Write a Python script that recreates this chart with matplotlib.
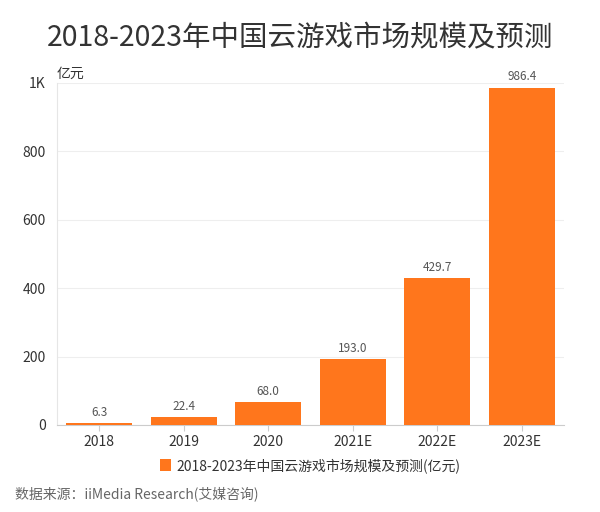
import matplotlib.pyplot as plt
import numpy as np

plt.rcParams['font.family'] = ['Noto Sans CJK SC', 'DejaVu Sans']

# data
years = ["2018", "2019", "2020", "2021E", "2022E", "2023E"]
market_size = [6.3, 22.4, 68.0, 193.0, 429.7, 986.4]
y_ticks = [0, 200, 400, 600, 800, 1000]
y_tick_labels = ["0", "200", "400", "600", "800", "1K"]

bar_color = "#FF761C"
text_color = "#333333"

fig = plt.figure(figsize=(6, 5.12), dpi=100)
ax = fig.add_axes([0.095, 0.17, 0.845, 0.668])

x = np.arange(len(years))
bars = ax.bar(x, market_size, width=0.78, color=bar_color,
              label="2018-2023年中国云游戏市场规模及预测(亿元)", zorder=3)

for xi, v in zip(x, market_size):
    ax.text(xi, v + 12, f"{v:.1f}", ha="center", va="bottom",
            fontsize=8.5, color="#555555")

ax.set_xlim(-0.5, len(years) - 0.5)
ax.set_ylim(0, 1000)
ax.set_xticks(x)
ax.set_xticklabels(years, fontsize=10, color=text_color)
ax.set_yticks(y_ticks)
ax.set_yticklabels(y_tick_labels, fontsize=10, color=text_color)
ax.grid(axis="y", color="#EEEEEE", linewidth=0.8, zorder=0)
ax.tick_params(axis="y", length=0, pad=8)
ax.tick_params(axis="x", length=4, color="#CCCCCC")

for s in ["top", "right"]:
    ax.spines[s].set_visible(False)
ax.spines["left"].set_color("#E6E6E6")
ax.spines["bottom"].set_color("#CCCCCC")

ax.text(0.0, 1.005, "亿元", transform=ax.transAxes, fontsize=10,
        color=text_color, ha="left", va="bottom")

fig.text(0.5, 0.926, "2018-2023年中国云游戏市场规模及预测", ha="center",
         va="center", fontsize=20.5, color=text_color)

ax.legend(loc="upper center", bbox_to_anchor=(0.5, -0.06), frameon=False,
          fontsize=10, handlelength=0.8, handleheight=0.9, handletextpad=0.4,
          labelcolor=text_color)

fig.text(0.025, 0.035, "数据来源：iiMedia Research(艾媒咨询)", fontsize=10,
         color="#666666", ha="left", va="center")

fig.savefig("out.png", dpi=100)
